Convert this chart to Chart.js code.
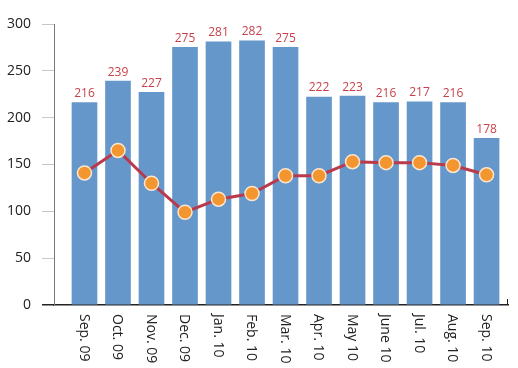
<!DOCTYPE html>
<html>
<head>
<meta charset="utf-8">
<script src="https://cdn.jsdelivr.net/npm/chart.js@4"></script>
<style>
  html, body { margin: 0; padding: 0; background: #fff; }
  #wrap { width: 518px; height: 368px; }
</style>
</head>
<body>
<div id="wrap"><canvas id="chart" width="518" height="368"></canvas></div>
<script>
const months = ['Sep. 09', 'Oct. 09', 'Nov. 09', 'Dec. 09', 'Jan. 10', 'Feb. 10', 'Mar. 10',
                'Apr. 10', 'May 10', 'June 10', 'Jul. 10', 'Aug. 10', 'Sep. 10'];
const barValues = [216, 239, 227, 275, 281, 282, 275, 222, 223, 216, 217, 216, 178];
const lineValues = [141, 165, 130, 99, 113, 119, 138, 138, 153, 152, 152, 149, 139];
const yTicks = [0, 50, 100, 150, 200, 250, 300];

// bar values + rotated month labels drawn from the scales
const labelPlugin = {
    id: 'labelPlugin',
    afterDatasetsDraw(chart) {
        const ctx = chart.ctx;
        const meta = chart.getDatasetMeta(0);
        ctx.save();
        ctx.font = '12px "Open Sans"';
        ctx.fillStyle = '#c8414b';
        ctx.textAlign = 'center';
        ctx.textBaseline = 'bottom';
        meta.data.forEach((bar, i) => {
            ctx.fillText(String(barValues[i]), bar.x, bar.y - 3);
        });
        ctx.restore();
    },
    afterDraw(chart) {
        const ctx = chart.ctx;
        const xs = chart.scales.x;
        const top = chart.chartArea.bottom + 9;
        ctx.save();
        ctx.font = '14px "Open Sans"';
        ctx.fillStyle = '#222';
        ctx.textAlign = 'left';
        ctx.textBaseline = 'middle';
        months.forEach((m, i) => {
            ctx.save();
            ctx.translate(xs.getPixelForValue(i) - 1, top);
            ctx.rotate(Math.PI / 2);
            ctx.fillText(m, 0, 0);
            ctx.restore();
        });
        // small end tick on the category axis
        ctx.strokeStyle = '#222';
        ctx.lineWidth = 1;
        ctx.beginPath();
        ctx.moveTo(chart.chartArea.right - 0.5, chart.chartArea.bottom);
        ctx.lineTo(chart.chartArea.right - 0.5, chart.chartArea.bottom - 6);
        ctx.stroke();
        ctx.restore();
    }
};

new Chart(document.getElementById('chart'), {
    type: 'bar',
    data: {
        datasets: [
            {
                type: 'bar',
                data: barValues.map((v, i) => ({ x: i, y: v })),
                backgroundColor: '#6597cb',
                barThickness: 25,
                order: 1
            },
            {
                type: 'line',
                data: lineValues.map((v, i) => ({ x: i, y: v })),
                borderColor: '#b93a4a',
                borderWidth: 3,
                pointRadius: 7,
                pointBackgroundColor: '#f3962f',
                pointBorderColor: '#fbe6cf',
                pointBorderWidth: 1.5,
                tension: 0,
                order: 0
            }
        ]
    },
    options: {
        responsive: false,
        animation: false,
        layout: { padding: { top: 24, right: 10, bottom: 55, left: 0 } },
        plugins: { legend: { display: false }, tooltip: { enabled: false } },
        scales: {
            x: {
                type: 'linear',
                offset: false,
                min: -0.91,
                max: 12.64,
                grid: { display: false },
                border: { display: true, color: '#222', width: 1.5 },
                ticks: { display: false, stepSize: 1 }
            },
            y: {
                min: 0,
                max: 300,
                afterBuildTicks: axis => { axis.ticks = yTicks.map(v => ({ value: v })); },
                afterFit: axis => { axis.width = 54; },
                grid: {
                    drawOnChartArea: false,
                    tickLength: 12,
                    color: ctx => ctx.tick && ctx.tick.value === 0 ? '#222' : '#c8c8c8',
                    lineWidth: ctx => ctx.tick && ctx.tick.value === 0 ? 1.5 : 1
                },
                border: { display: true, color: '#777', width: 1 },
                ticks: {
                    padding: 11,
                    color: '#222',
                    font: { family: 'Open Sans', size: 14 }
                }
            }
        }
    },
    plugins: [labelPlugin]
});
</script>
</body>
</html>
